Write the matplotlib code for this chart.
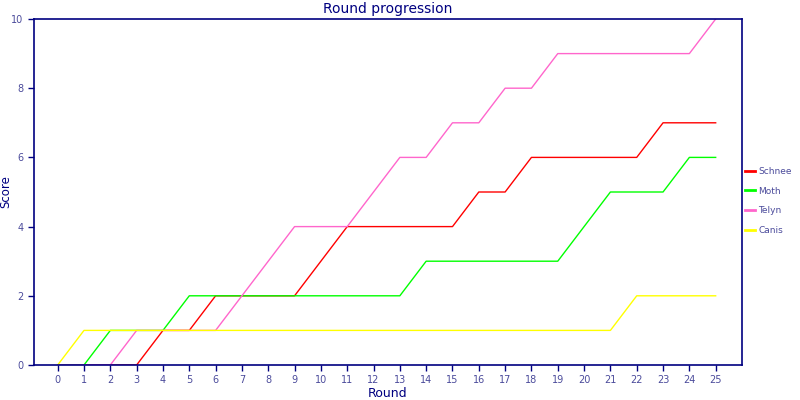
import numpy as np
import matplotlib
matplotlib.use("Agg")
import matplotlib.pyplot as plt

## scores per round
rounds = list(range(26))
schnee = [0, 0, 0, 0, 1, 1, 2, 2, 2, 2, 3, 4, 4, 4, 4, 4, 5, 5, 6, 6, 6, 6, 6, 7, 7, 7]
moth = [0, 0, 1, 1, 1, 2, 2, 2, 2, 2, 2, 2, 2, 2, 3, 3, 3, 3, 3, 3, 4, 5, 5, 5, 6, 6]
telyn = [0, 0, 0, 1, 1, 1, 1, 2, 3, 4, 4, 4, 5, 6, 6, 7, 7, 8, 8, 9, 9, 9, 9, 9, 9, 10]
canis = [0, 1, 1, 1, 1, 1, 1, 1, 1, 1, 1, 1, 1, 1, 1, 1, 1, 1, 1, 1, 1, 1, 2, 2, 2, 2]

names = ["Schnee", "Moth", "Telyn", "Canis"]
colours = ["#ff0000", "#00ff00", "#ff66cc", "#ffff00"]

navy = "#000080"
label_col = "#4b4b9b"

fig = plt.figure(figsize=(8, 4), dpi=100)
ax = fig.add_axes([34 / 800, 35 / 400, 708 / 800, 346 / 400])

for series, name, col in zip([schnee, moth, telyn, canis], names, colours):
    ax.plot(rounds, series, color=col, lw=1, label=name)

ax.set_xlim(-0.9, 26)
ax.set_ylim(0, 10)
ax.set_xticks(rounds)
ax.set_yticks([0, 2, 4, 6, 8, 10])

for sp in ax.spines.values():
    sp.set_color(navy)
    sp.set_linewidth(1.2)
ax.tick_params(axis="both", colors=navy, labelcolor=label_col, labelsize=7,
               length=4, width=1, direction="out")
ax.tick_params(top=False, right=False)

ax.set_title("Round progression", color=navy, fontsize=10, pad=4)
ax.set_xlabel("Round", color=navy, fontsize=9, labelpad=1)
ax.set_ylabel("Score", color=navy, fontsize=8.5)
ax.yaxis.set_label_coords(-22 / 708, 0.5)

leg = ax.legend(loc="center left", bbox_to_anchor=(0.995, 0.474), frameon=False,
                fontsize=6.5, handlelength=1.1, handletextpad=0.4, labelspacing=1.2,
                borderaxespad=0.3)
for line in leg.get_lines():
    line.set_linewidth(2)
for t in leg.get_texts():
    t.set_color(label_col)

fig.savefig("out.png", dpi=100)
